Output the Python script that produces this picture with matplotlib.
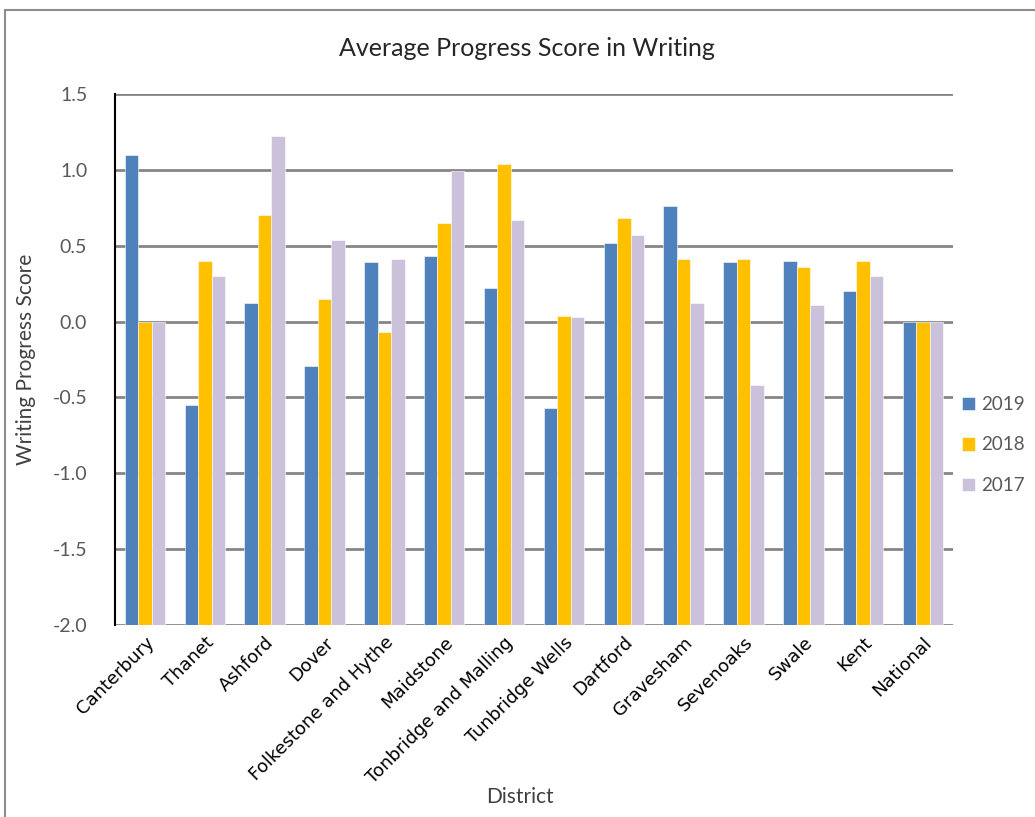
import numpy as np
import matplotlib
matplotlib.use('Agg')
import matplotlib.pyplot as plt
from matplotlib.patches import Rectangle

# Districts and average progress scores in writing
districts = ['Canterbury', 'Thanet', 'Ashford', 'Dover', 'Folkestone and Hythe',
             'Maidstone', 'Tonbridge and Malling', 'Tunbridge Wells', 'Dartford',
             'Gravesham', 'Sevenoaks', 'Swale', 'Kent', 'National']
score_2019 = [1.10, -0.55, 0.12, -0.29, 0.39, 0.43, 0.22, -0.57, 0.52, 0.76, 0.39, 0.40, 0.20, 0.0]
score_2018 = [0.0, 0.40, 0.70, 0.15, -0.07, 0.65, 1.04, 0.04, 0.68, 0.41, 0.41, 0.36, 0.40, 0.0]
score_2017 = [0.0, 0.30, 1.22, 0.54, 0.41, 0.99, 0.67, 0.03, 0.57, 0.12, -0.42, 0.11, 0.30, 0.0]
years = ['2019', '2018', '2017']
colors = ['#4F81BD', '#FFC000', '#CCC1DA']
y_ticks = [-2.0, -1.5, -1.0, -0.5, 0.0, 0.5, 1.0, 1.5]
y_min, y_max = -2.0, 1.5

W, H = 1035, 817
fig = plt.figure(figsize=(W / 100, H / 100), dpi=100)

# outer chart border (cut off on the right and bottom)
fig.patches.append(Rectangle((5 / W, -0.1), 1.2, 1 - 10 / H + 0.1,
                             transform=fig.transFigure, fill=False,
                             edgecolor='#8c8c8c', linewidth=1.5))

ax = fig.add_axes([115 / W, 1 - 625 / H, 838 / W, 531 / H])

# bars grow from the bottom of the axis (horizontal axis crosses at -2.0)
x = np.arange(len(districts))
width = 0.225
for i, (vals, c, lab) in enumerate(zip([score_2019, score_2018, score_2017], colors, years)):
    heights = np.array(vals) - y_min
    ax.bar(x + (i - 1) * width, heights, width, bottom=y_min, color=c, label=lab,
           zorder=3, edgecolor='white', linewidth=0.4)

ax.set_xlim(-0.5, len(districts) - 0.5)
ax.set_ylim(y_min, y_max)
ax.set_yticks(y_ticks)
ax.set_yticklabels([f'{v:.1f}' for v in y_ticks], fontsize=14, color='#595959',
                   family='Lato')
ax.yaxis.grid(True, color='#868686', linewidth=2, zorder=0)
ax.tick_params(axis='y', length=0, pad=20)
ax.tick_params(axis='x', length=0, pad=6)
ax.set_xticks(x)
ax.set_xticklabels(districts, rotation=45, ha='right', rotation_mode='anchor',
                   fontsize=13, color='black', family='DejaVu Sans')

for s in ['top', 'right', 'bottom']:
    ax.spines[s].set_visible(False)
ax.spines['left'].set_color('black')
ax.spines['left'].set_linewidth(1.5)
ax.spines['left'].set_zorder(4)

ax.set_ylabel('Writing Progress Score', fontsize=15, color='#404040', family='Lato',
              labelpad=12)
fig.text(520 / W, 1 - 797 / H, 'District', ha='center', va='center',
         fontsize=15, color='#404040', family='Lato')
fig.text(527 / W, 1 - 48 / H, 'Average Progress Score in Writing', ha='center',
         va='center', fontsize=18, color='#262626', family='Lato')

leg = fig.legend(loc='center left', bbox_to_anchor=(962 / W, 1 - 445 / H),
                 frameon=False, prop={'family': 'Lato', 'size': 13.5},
                 handlelength=0.7, handleheight=0.7, handletextpad=0.3,
                 labelspacing=1.25, borderaxespad=0, borderpad=0)
for t in leg.get_texts():
    t.set_color('#595959')

fig.savefig('out.png', dpi=100)
